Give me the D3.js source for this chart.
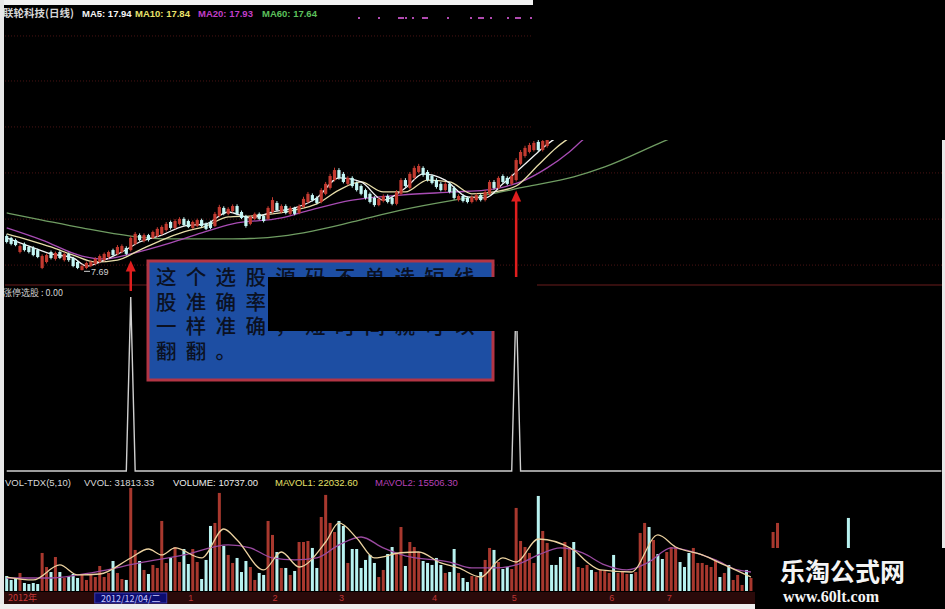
<!DOCTYPE html>
<html>
<head>
<meta charset="utf-8">
<script src="https://cdn.jsdelivr.net/npm/d3@7"></script>
<style>
html, body { margin: 0; padding: 0; background: #000; }
svg { display: block; }
</style>
</head>
<body>
<div id="chart"></div>
<script>
// ---- daily candles (only the part that is not hidden) ----
var openP = [9.13,9.05,8.96,8.46,8.80,8.67,8.63,8.54,7.79,8.04,
  8.46,8.17,8.46,8.12,8.38,8.21,8.04,7.70,7.79,7.87,
  7.96,8.04,8.12,8.25,8.54,8.38,8.46,8.63,8.54,8.80,
  9.17,8.92,9.17,9.05,9.13,9.22,9.38,9.72,9.47,9.64,
  9.85,9.76,9.47,9.55,9.80,9.64,9.72,9.55,9.97,10.31,
  10.06,10.18,10.39,10.14,9.97,9.64,9.85,10.06,9.97,9.85,
  10.14,10.52,10.14,10.39,10.06,10.31,10.10,10.35,10.56,10.85,
  10.73,10.56,10.90,11.15,11.48,11.90,11.74,11.32,11.57,11.36,
  11.23,11.06,10.90,10.73,10.43,10.60,10.81,10.73,10.48,10.90,
  11.48,11.15,11.57,11.82,11.99,11.82,11.65,11.48,11.32,11.06,
  11.32,11.15,10.64,10.81,10.73,10.56,10.64,10.85,10.64,10.90,
  11.40,11.15,11.65,11.57,11.32,11.48,12.16,12.49,12.66,12.74,
  13.08,12.74,12.91];
var closeP = [8.88,8.80,8.75,8.71,8.54,8.46,8.33,8.25,8.29,8.33,
  8.21,8.42,8.21,8.38,8.12,7.87,7.79,7.87,8.00,8.04,
  8.17,8.29,8.38,8.46,8.33,8.67,8.71,8.38,9.05,9.22,
  8.96,9.17,8.96,9.30,9.43,9.51,9.64,9.47,9.76,9.85,
  9.59,9.51,9.72,9.80,9.55,9.43,9.47,10.06,10.35,10.06,
  10.27,10.39,10.06,9.89,9.55,9.93,10.06,9.85,9.76,10.31,
  10.64,10.22,10.39,10.10,10.31,10.06,10.39,10.69,10.90,10.64,
  10.52,11.06,11.32,11.65,11.90,11.57,11.40,11.57,11.23,11.06,
  10.90,10.73,10.56,10.43,10.69,10.81,10.56,10.48,10.98,11.48,
  11.23,11.74,11.99,12.07,11.69,11.48,11.36,11.19,11.06,11.32,
  10.98,10.73,10.81,10.60,10.56,10.77,10.85,10.64,10.98,11.40,
  11.15,11.57,11.40,11.32,11.65,12.32,12.66,12.83,12.95,13.04,
  12.74,13.12,13.21];
var highP = [9.20,9.10,9.02,8.78,8.86,8.72,8.70,8.60,8.36,8.40,
  8.52,8.48,8.52,8.44,8.44,8.26,8.10,7.94,8.06,8.10,
  8.24,8.36,8.44,8.52,8.60,8.75,8.78,8.70,9.14,9.30,
  9.24,9.24,9.22,9.36,9.50,9.58,9.72,9.78,9.84,9.92,
  9.92,9.82,9.78,9.86,9.86,9.70,9.78,10.14,10.44,10.38,
  10.34,10.46,10.46,10.20,10.02,10.00,10.12,10.12,10.04,10.38,
  10.76,10.60,10.46,10.46,10.38,10.36,10.46,10.78,10.98,10.92,
  10.80,11.14,11.40,11.74,12.00,11.98,11.82,11.64,11.64,11.42,
  11.30,11.12,10.96,10.80,10.76,10.88,10.88,10.80,11.06,11.56,
  11.56,11.82,12.08,12.16,12.06,11.90,11.72,11.56,11.40,11.40,
  11.40,11.22,10.88,10.88,10.80,10.84,10.92,10.92,11.06,11.48,
  11.48,11.64,11.72,11.64,11.72,12.40,12.74,12.92,13.04,13.12,
  13.16,13.20,13.30];
var lowP = [8.82,8.74,8.70,8.40,8.48,8.40,8.28,8.20,7.74,7.98,
  8.15,8.10,8.16,8.06,8.05,7.82,7.74,7.69,7.74,7.82,
  7.90,7.98,8.06,8.18,8.28,8.32,8.40,8.32,8.48,8.74,
  8.90,8.86,8.90,9.00,9.08,9.16,9.32,9.40,9.42,9.58,
  9.54,9.46,9.42,9.50,9.50,9.38,9.42,9.50,9.92,10.00,
  10.00,10.12,10.00,9.84,9.48,9.58,9.80,9.80,9.70,9.80,
  10.08,10.16,10.08,10.04,10.00,10.00,10.04,10.30,10.50,10.58,
  10.46,10.50,10.84,11.08,11.42,11.50,11.34,11.26,11.16,11.00,
  10.84,10.66,10.50,10.36,10.38,10.54,10.50,10.42,10.42,10.84,
  11.16,11.08,11.50,11.76,11.62,11.42,11.30,11.12,11.00,11.00,
  10.92,10.66,10.58,10.54,10.50,10.50,10.58,10.58,10.58,10.84,
  11.08,11.10,11.34,11.26,11.26,11.42,12.10,12.42,12.60,12.68,
  12.66,12.68,12.84];

// moving averages (bar index, price)
var ma5Idx = [0,5,10,15,18,22,26,30,35,40,45,50,55,60,65,70,75,80,85,90,94,99,104,108,112,115,118,121,124];
var ma5Val = [9.05,8.71,8.38,8.21,7.87,8.12,8.46,8.88,9.17,9.55,9.64,10.14,9.89,10.14,10.31,10.73,11.57,11.40,10.64,11.15,11.74,11.48,10.77,10.73,11.32,11.82,12.32,12.83,13.25];
var ma10Idx = [0,5,10,15,20,25,30,35,40,45,50,55,60,65,70,75,80,85,90,95,100,105,110,115,120,124,127];
var ma10Val = [9.22,8.96,8.67,8.33,8.04,8.12,8.54,8.96,9.30,9.55,9.93,9.97,10.06,10.22,10.48,11.06,11.40,10.98,10.98,11.48,11.40,10.90,10.98,11.23,12.11,12.83,13.25];
var ma20Idx = [0,8,17,22,28,37,44,51,62,67,78,89,101,108,113,117,122,127,130,135];
var ma20Val = [9.47,8.96,8.29,8.17,8.38,8.84,9.26,9.64,9.89,10.14,10.64,10.85,10.98,11.06,11.23,11.48,11.99,12.66,13.16,13.84];
var ma60Idx = [0,8,17,28,37,51,62,69,78,89,101,108,117,128,135,148,157];
var ma60Val = [10.10,9.80,9.47,9.13,9.01,9.01,9.13,9.34,9.72,10.22,10.64,10.85,11.19,11.61,12.03,13.08,13.79];
var gridPrices = [17.53, 15.64, 13.71, 11.78, 9.84, 7.91];

// 涨停选股 signal days
var signalIdx = [28, 115];
var barCount = 212;

// volume (hands) and up/down flag, null = hidden under the watermark
var volume = [20400,15000,17700,24500,10900,9500,10900,9500,51700,32600,
  25800,46200,25800,17700,20400,23100,17700,21800,15000,21800,
  19000,34000,19000,24500,40800,24500,16300,15000,140100,55800,
  40800,28600,23100,35400,31300,95200,38100,44900,59800,39400,
  57100,36700,57100,39400,16300,42200,88400,92500,133300,61200,
  49000,38100,44900,25800,40800,32600,15000,24500,21800,95200,
  76200,53000,31300,31300,21800,27200,66600,66600,68000,58500,
  31300,100600,130600,92500,80200,95200,88400,38100,57100,57100,
  31300,42200,49000,38100,19000,28600,50300,59800,51700,87000,
  34000,66600,59800,53000,40800,38100,35400,44900,35400,24500,
  25800,57100,24500,17700,12200,20400,19000,25800,42200,58500,
  55800,39400,29900,32600,29900,112900,68000,59800,51700,38100,
  129200,81600,65300,35400,35400,46200,66600,59800,66600,32600,
  31300,35400,28600,25800,28600,27200,24500,49000,24500,27200,
  23100,23100,25800,78900,92500,87000,69400,50300,43500,53000,
  59800,59800,39400,32600,51700,58500,38100,38100,35400,32600,
  42200,19000,24500,35400,15000,21800,8200,28600,17700,null,
  null,null,null,80200,92500,null,null,null,null,null,
  null,null,null,null,null,null,null,null,null,null,99300];
var volUp = [0,0,0,1,0,0,0,0,1,1, 0,1,0,1,0,0,0,1,1,1,
  1,1,1,1,0,1,1,0,1,1, 0,1,0,1,1,1,1,0,1,1,
  0,0,1,1,0,0,0,1,1,0, 1,1,0,0,0,1,1,0,0,1,
  1,0,1,0,1,0,1,1,1,0, 0,1,1,1,1,0,0,1,0,0,
  0,0,0,0,1,1,0,0,1,1, 0,1,1,1,0,0,0,0,0,1,
  0,0,1,0,0,1,1,0,1,1, 0,1,0,0,1,1,1,1,1,1,
  0,1,1,0,0,0,1,1,0,1, 1,1,0,1,1,1,1,0,1,1,
  1,0,1,1,1,0,1,0,0,1, 1,1,0,0,0,1,1,1,1,1,
  1,0,1,0,1,1,1,0,1,0, 0,0,0,1,1,0,0,0,0,0,
  0,0,0,0,0,0,0,0,0,0,0];
var mavol1Idx = [0,6,12,16,21,28,32,35,38,44,49,52,58,62,66,72,75,79,83,89,93,98,102,107,112,115,120,128,131,134,141,147,151,157,162,168];
var mavol1Val = [19000,15000,35400,21800,23100,44900,57100,49000,58500,44900,84300,69400,28600,53000,32600,66600,92500,72100,44900,52000,53000,38100,31300,19000,44900,39400,70700,55800,39400,28600,25800,76200,59800,49000,35400,19000];
var mavol2Idx = [0,10,20,30,40,50,55,60,65,70,75,80,85,90,100,105,110,115,120,125,130,135,140,145,150,155,160,165,168];
var mavol2Val = [17700,17700,25800,38100,49000,62600,58500,44900,42200,44900,62600,73400,58500,47600,39400,31300,31300,35400,49000,58500,51700,35400,28600,39400,58500,53000,42200,28600,25800];

var monthLabels = ["1","2","3","4","5","6","7"];
var monthIdx = [41, 60, 75, 96, 114, 136, 149];
var noteLines = ["这个选股源码不单选短线", "股准确率高，选中长线股也", "一样准确，短时间就可以", "翻翻。"];

var W = 945, H = 609;
var svg = d3.select("#chart").append("svg").attr("width", W).attr("height", H);
svg.append("rect").attr("width", W).attr("height", H).attr("fill", "#000");

var x = d3.scaleLinear().domain([0, barCount - 1]).range([6.7, 6.7 + (barCount - 1) * 4.43]);
var y = d3.scaleLinear().domain([7.2, 18.2]).range([282, 20]);
var yi = d3.scaleLinear().domain([0, 1]).range([471, 297]);
var yv = d3.scaleLinear().domain([0, 140000]).range([591, 488]);

var UP = "#c33a30", DOWN = "#c4f6f4";

svg.append("clipPath").attr("id", "pclip").append("rect")
  .attr("x", 4).attr("y", 14).attr("width", 941).attr("height", 270);
svg.append("clipPath").attr("id", "vclip").append("rect")
  .attr("x", 4).attr("y", 486).attr("width", 941).attr("height", 106);

// grid
svg.selectAll("line.grid").data(gridPrices).enter().append("line")
  .attr("x1", 5).attr("x2", W)
  .attr("y1", function(d) { return y(d); }).attr("y2", function(d) { return y(d); })
  .attr("stroke", "#4a1414").attr("stroke-dasharray", "1,2");
svg.append("line").attr("x1", 5).attr("x2", W).attr("y1", 285).attr("y2", 285)
  .attr("stroke", "#6a1c1c");

var price = svg.append("g").attr("clip-path", "url(#pclip)");

// moving averages
function maLine(g, idx, val, sc, color) {
  var pts = idx.map(function(d, k) { return [d, val[k]]; });
  g.append("path").datum(pts)
    .attr("d", d3.line()
      .x(function(d) { return x(d[0]); })
      .y(function(d) { return sc(d[1]); })
      .curve(d3.curveMonotoneX))
    .attr("fill", "none").attr("stroke", color).attr("stroke-width", 1.3);
}
maLine(price, ma60Idx, ma60Val, y, "#6f9c62");
maLine(price, ma20Idx, ma20Val, y, "#a84cb4");
maLine(price, ma10Idx, ma10Val, y, "#e6dca8");
maLine(price, ma5Idx, ma5Val, y, "#f2f2f2");

// candles
var candles = openP.map(function(o, i) {
  return { i: i, o: o, c: closeP[i], h: highP[i], l: lowP[i], up: volUp[i] === 1 };
});
var cg = price.selectAll("g.candle").data(candles).enter().append("g");
cg.append("line")
  .attr("x1", function(d) { return x(d.i); }).attr("x2", function(d) { return x(d.i); })
  .attr("y1", function(d) { return y(d.h); }).attr("y2", function(d) { return y(d.l); })
  .attr("stroke", function(d) { return d.up ? UP : DOWN; });
cg.append("rect")
  .attr("x", function(d) { return x(d.i) - 1.6; })
  .attr("width", 3.2)
  .attr("y", function(d) { return y(Math.max(d.o, d.c)); })
  .attr("height", function(d) { return Math.max(1, Math.abs(y(d.o) - y(d.c))); })
  .attr("fill", function(d) { return d.up ? UP : DOWN; });

// lowest price marker
var lowIdx = d3.minIndex(lowP);
svg.append("line")
  .attr("x1", x(lowIdx) + 2).attr("x2", x(lowIdx) + 8)
  .attr("y1", y(lowP[lowIdx]) + 1).attr("y2", y(lowP[lowIdx]) + 1)
  .attr("stroke", "#d0d0d0");
svg.append("text").attr("x", x(lowIdx) + 9).attr("y", y(lowP[lowIdx]) + 5)
  .attr("fill", "#d0d0d0").attr("font-family", "Liberation Sans, Arial").attr("font-size", 9)
  .text(d3.format(".2f")(lowP[lowIdx]));

// header
var head = [
  { t: "联轮科技(日线)", x: 3, c: "#d6d6d6", f: "Noto Sans CJK SC", s: 10.5 },
  { t: "MA5: 17.94", x: 82, c: "#f4f4f4" },
  { t: "MA10: 17.84", x: 135, c: "#e8e26a" },
  { t: "MA20: 17.93", x: 198, c: "#c03ec8" },
  { t: "MA60: 17.64", x: 262, c: "#5cc05c" }
];
svg.selectAll("text.head").data(head).enter().append("text")
  .attr("x", function(d) { return d.x; }).attr("y", 17)
  .attr("fill", function(d) { return d.c; })
  .attr("font-family", function(d) { return d.f || "Liberation Sans, Arial"; })
  .attr("font-size", function(d) { return d.s || 9.5; })
  .attr("font-weight", "bold")
  .text(function(d) { return d.t; });
var marks = [358, 378, 398, 405, 412, 422, 447, 470, 478, 490, 507, 515, 530];
svg.selectAll("rect.mk").data(marks).enter().append("rect")
  .attr("x", function(d) { return d; }).attr("y", 17).attr("width", function(d, i) { return i % 3 === 2 ? 6 : 2; })
  .attr("height", 2).attr("fill", "#b04ab0");

// indicator panel
svg.append("text").attr("x", 3).attr("y", 296).attr("fill", "#cfcfcf")
  .attr("font-family", "Noto Sans CJK SC").attr("font-size", 9).text("涨停选股 : 0.00");
var sig = d3.range(barCount).map(function(i) { return signalIdx.indexOf(i) >= 0 ? 1 : 0; });
svg.append("path").datum(sig)
  .attr("d", d3.line().x(function(d, i) { return x(i); }).y(function(d) { return yi(d); }))
  .attr("fill", "none").attr("stroke", "#cfcfcf").attr("stroke-width", 1.4);

// volume panel
var vhead = [
  { t: "VOL-TDX(5,10)", x: 5, c: "#d8d8d8" },
  { t: "VVOL: 31813.33", x: 84, c: "#d8d8d8" },
  { t: "VOLUME: 10737.00", x: 173, c: "#ececec" },
  { t: "MAVOL1: 22032.60", x: 275, c: "#e6e06a" },
  { t: "MAVOL2: 15506.30", x: 375, c: "#b640b6" }
];
svg.selectAll("text.vh").data(vhead).enter().append("text")
  .attr("x", function(d) { return d.x; }).attr("y", 486)
  .attr("fill", function(d) { return d.c; })
  .attr("font-family", "Liberation Sans, Arial").attr("font-size", 9.5)
  .text(function(d) { return d.t; });

var vol = svg.append("g").attr("clip-path", "url(#vclip)");
var vdata = volume.map(function(v, i) { return { i: i, v: v, up: volUp[i] === 1 }; })
  .filter(function(d) { return d.v !== null; });
vol.selectAll("rect.vb").data(vdata).enter().append("rect")
  .attr("x", function(d) { return x(d.i) - 1.5; }).attr("width", 3)
  .attr("y", function(d) { return yv(d.v); })
  .attr("height", function(d) { return yv(0) - yv(d.v); })
  .attr("fill", function(d) { return d.up ? "#a8382e" : "#b8f2f0"; });
maLine(vol, mavol2Idx, mavol2Val, yv, "#9a4aa0");
maLine(vol, mavol1Idx, mavol1Val, yv, "#ecd2a0");

// date strip
svg.append("rect").attr("x", 4).attr("y", 592).attr("width", 941).attr("height", 12).attr("fill", "#2a0a0a");
svg.append("text").attr("x", 8).attr("y", 601).attr("fill", "#c83a3a")
  .attr("font-family", "Noto Sans CJK SC").attr("font-size", 9).text("2012年");
svg.append("rect").attr("x", x(signalIdx[0]) - 36).attr("y", 593).attr("width", 72).attr("height", 10)
  .attr("fill", "#0c0c70").attr("stroke", "#3a3ab0");
svg.append("text").attr("x", x(signalIdx[0])).attr("y", 601.5).attr("text-anchor", "middle")
  .attr("fill", "#c8c8ff").attr("font-family", "Noto Sans CJK SC").attr("font-size", 9).text("2012/12/04/二");
svg.selectAll("text.mon").data(monthLabels).enter().append("text")
  .attr("x", function(d, i) { return x(monthIdx[i]); }).attr("y", 601)
  .attr("fill", "#c03636").attr("font-family", "Liberation Sans, Arial").attr("font-size", 9)
  .text(function(d) { return d; });

// red arrows at the signal days
signalIdx.forEach(function(s, k) {
  var tip = y(lowP[s]) + 9;
  var tail = k === 0 ? 291 : 277;
  svg.append("line").attr("x1", x(s)).attr("x2", x(s)).attr("y1", tail).attr("y2", tip + 8)
    .attr("stroke", "#e01e1e").attr("stroke-width", 2.5);
  svg.append("path")
    .attr("d", "M" + x(s) + "," + tip + "L" + (x(s) - 5) + "," + (tip + 11) + "L" + (x(s) + 5) + "," + (tip + 11) + "Z")
    .attr("fill", "#e01e1e");
});

// note box: one text block, one line per tspan
svg.append("rect").attr("x", 148).attr("y", 261).attr("width", 345).attr("height", 119)
  .attr("fill", "#1d4ea3").attr("stroke", "#b33545").attr("stroke-width", 3);
svg.append("text")
  .attr("fill", "#0b1122").attr("font-family", "Liberation Sans, Noto Sans CJK SC").attr("font-size", 20.5)
  .attr("font-weight", 500).attr("letter-spacing", 9.3)
  .selectAll("tspan").data(noteLines).enter().append("tspan")
  .attr("x", 156).attr("y", function(d, i) { return 285 + i * 24.5; })
  .text(function(d) { return d; });

// covers in the source picture
svg.append("rect").attr("x", 268).attr("y", 277).attr("width", 269).attr("height", 54).attr("fill", "#000");
svg.append("rect").attr("x", 533).attr("y", 0).attr("width", 412).attr("height", 140).attr("fill", "#000");
svg.append("rect").attr("x", 0).attr("y", 0).attr("width", 533).attr("height", 5).attr("fill", "#f2f2f2");
svg.append("rect").attr("x", 0).attr("y", 0).attr("width", 4).attr("height", H).attr("fill", "#e8e8e8");
svg.append("rect").attr("x", 942).attr("y", 140).attr("width", 3).attr("height", 410).attr("fill", "#e8e8e8");
svg.append("rect").attr("x", 0).attr("y", 604).attr("width", 755).attr("height", 5).attr("fill", "#eeeeee");

// watermark
svg.append("rect").attr("x", 755).attr("y", 548).attr("width", 190).attr("height", 61).attr("fill", "#000");
svg.append("text").attr("x", 780).attr("y", 581).attr("fill", "#f4f4f4")
  .attr("font-family", "Noto Sans CJK SC").attr("font-weight", "bold").attr("font-size", 25)
  .text("乐淘公式网");
svg.append("text").attr("x", 783).attr("y", 602).attr("fill", "#f4f4f4")
  .attr("font-family", "Liberation Serif, DejaVu Serif").attr("font-weight", "bold").attr("font-size", 16)
  .text("www.60lt.com");
</script>
</body>
</html>
